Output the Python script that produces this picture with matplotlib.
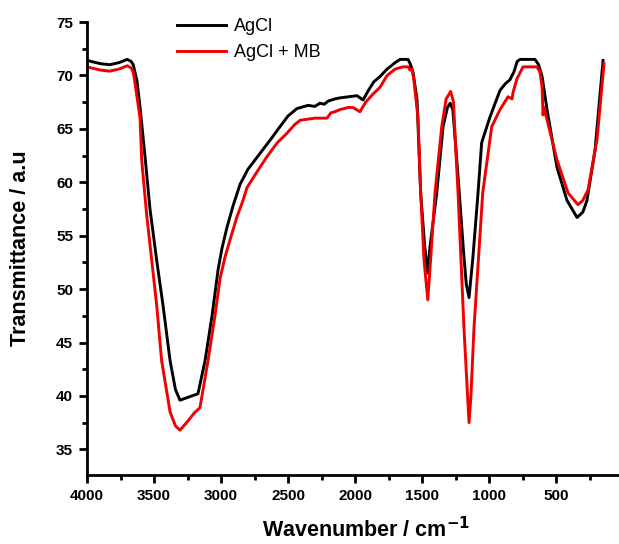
import matplotlib
matplotlib.use("Agg")
import matplotlib.pyplot as plt
from matplotlib.lines import Line2D

plt.rcParams['font.family'] = ['Liberation Sans', 'DejaVu Sans']

# ---- data ----
wn_agcl = [4000, 3900, 3830, 3760, 3700, 3670, 3655, 3627, 3604, 3567, 3530, 3480,
           3433, 3380, 3340, 3306, 3240, 3172, 3119, 3067, 3022, 2993, 2955, 2910,
           2858, 2800, 2709, 2630, 2560, 2500, 2433, 2350, 2300, 2261, 2230, 2200, 2150,
           2112, 2050, 1985, 1940, 1900, 1860, 1813, 1760, 1700, 1664, 1604, 1585,
           1567, 1537, 1510, 1480, 1457, 1440, 1390, 1343, 1310, 1290, 1270, 1246,
           1222, 1190, 1170, 1149, 1120, 1082, 1055, 993, 918, 880, 843, 828,
           815, 790, 769, 657, 630, 604, 567, 493, 418, 343, 300, 269, 209, 149]
t_agcl = [71.4, 71.1, 71.0, 71.2, 71.5, 71.3, 71.0, 69.5, 67.0, 62.4, 57.5, 52.7,
          48.5, 43.3, 40.6, 39.6, 39.9, 40.2, 43.3, 47.5, 51.8, 53.8, 55.8, 57.8,
          59.8, 61.2, 62.7, 64.0, 65.2, 66.2, 66.9, 67.2, 67.1, 67.4, 67.3, 67.6, 67.8,
          67.9, 68.0, 68.1, 67.7, 68.6, 69.4, 69.9, 70.6, 71.2, 71.5, 71.5, 71.0,
          70.3, 67.7, 59.0, 54.0, 51.5, 54.0, 59.0, 65.2, 67.0, 67.4, 66.8, 63.0,
          59.0, 53.5, 50.5, 49.2, 53.0, 59.0, 63.7, 66.1, 68.6, 69.2, 69.6, 70.0,
          70.3, 71.3, 71.5, 71.5, 71.0, 69.9, 66.8, 61.4, 58.3, 56.7, 57.2, 58.3, 63.0, 71.4]

wn_agcl_mb = [4000, 3900, 3830, 3760, 3700, 3670, 3655, 3642, 3604, 3592, 3555, 3517,
              3480, 3443, 3380, 3340, 3306, 3250, 3200, 3157, 3097, 3045, 3007, 2970,
              2933, 2880, 2836, 2806, 2730, 2657, 2580, 2507, 2450, 2410, 2300, 2209,
              2180, 2150, 2112, 2050, 2015, 1963, 1920, 1870, 1813, 1760, 1700, 1642,
              1600, 1590, 1575, 1560, 1530, 1510, 1485, 1457, 1440, 1403, 1353, 1320,
              1286, 1265, 1250, 1231, 1187, 1160, 1149, 1135, 1112, 1047, 980, 918, 858,
              828, 821, 791, 746, 642, 620, 604, 597, 590, 493, 410, 336, 300, 261, 194, 142]
t_agcl_mb = [70.8, 70.5, 70.4, 70.6, 70.9, 70.7, 70.3, 69.3, 66.0, 62.1, 57.0, 52.7,
             48.5, 43.3, 38.5, 37.2, 36.8, 37.6, 38.4, 38.9, 43.3, 47.5, 51.0, 53.0,
             54.6, 56.8, 58.3, 59.5, 61.0, 62.4, 63.7, 64.6, 65.4, 65.8, 66.0, 66.0,
             66.5, 66.6, 66.8, 67.0, 67.0, 66.6, 67.5, 68.2, 68.9, 70.0, 70.6, 70.8,
             70.8, 70.5, 70.6, 69.5, 66.0, 59.0, 52.7, 49.0, 52.0, 59.0, 65.2, 67.8,
             68.5, 67.5, 63.5, 59.0, 46.4, 40.0, 37.5, 40.0, 46.4, 59.0, 65.2, 66.8, 68.0,
             67.8, 68.4, 69.7, 70.8, 70.8, 70.3, 68.9, 66.3, 67.0, 62.1, 59.0, 57.9, 58.3,
             59.3, 64.0, 71.1]

series_labels = ['AgCl', 'AgCl + MB']
series_colors = ['#000000', '#f00000']
x_ticks = [4000, 3500, 3000, 2500, 2000, 1500, 1000, 500]
y_ticks = [35, 40, 45, 50, 55, 60, 65, 70, 75]

fig = plt.figure(figsize=(6.19, 5.44), dpi=100)
ax = fig.add_axes([87/619, 1-475/544, 1-87/619, (475-22)/544])

ax.plot(wn_agcl, t_agcl, color=series_colors[0], lw=2.1, solid_joinstyle='round')
ax.plot(wn_agcl_mb, t_agcl_mb, color=series_colors[1], lw=2.1, solid_joinstyle='round')

ax.set_xlim(4000, 30)
ax.set_ylim(32.6, 75)
ax.set_xticks(x_ticks)
ax.set_yticks(y_ticks)
ax.set_xticks([3750, 3250, 2750, 2250, 1750, 1250, 750, 250], minor=True)
ax.set_yticks([37.5, 42.5, 47.5, 52.5, 57.5, 62.5, 67.5, 72.5], minor=True)

for s in ['top', 'right']:
    ax.spines[s].set_visible(False)
for s in ['left', 'bottom']:
    ax.spines[s].set_linewidth(2.0)

ax.tick_params(which='major', direction='out', length=6, width=2, labelsize=11, pad=4)
ax.tick_params(which='minor', direction='out', length=3.5, width=2)
for lab in ax.get_xticklabels() + ax.get_yticklabels():
    lab.set_fontweight('bold')

ax.set_xlabel('Wavenumber / cm$^{\\mathbf{-1}}$', fontsize=15.5, fontweight='bold')
ax.set_ylabel('Transmittance / a.u', fontsize=15.5, fontweight='bold')
ax.xaxis.set_label_coords((366-87)/532, -(42/453))
ax.yaxis.set_label_coords(-(87-31)/532, 0.5)

handles = [Line2D([], [], color=c, lw=2.1) for c in series_colors]
fig.legend(handles, series_labels, loc='upper left', bbox_to_anchor=(177/619, 1-18/544),
           frameon=False, fontsize=13, handlelength=2.7, handletextpad=0.45,
           labelspacing=0.52, borderaxespad=0, borderpad=0)

fig.savefig('out.png', dpi=100)
